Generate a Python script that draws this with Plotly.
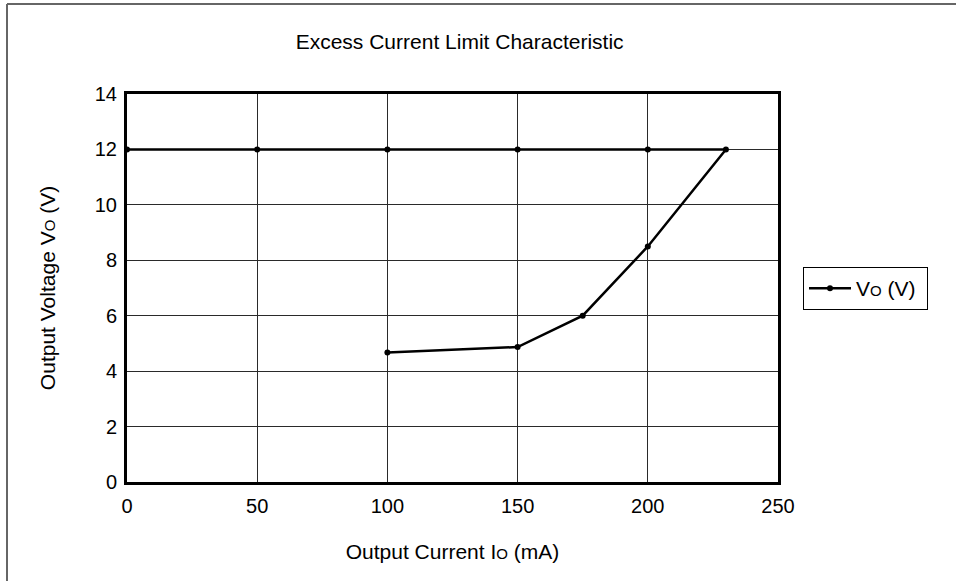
import plotly.graph_objects as go

# Data
current_ma = [0, 50, 100, 150, 200, 230, 200, 175, 150, 100]
voltage_v = [12, 12, 12, 12, 12, 12, 8.5, 6.0, 4.87, 4.67]
x_ticks = [0, 50, 100, 150, 200, 250]
y_ticks = [0, 2, 4, 6, 8, 10, 12, 14]

FONT = "Liberation Sans, Arial, sans-serif"
W, H = 956, 581
ML, MR, MT, MB = 127, 178, 94, 99
PW, PH = W - ML - MR, H - MT - MB

def px_x(p):
    return (p - ML) / PW

def px_y(p):
    return (H - MB - p) / PH

small_o = "<span style='font-size:15px'>O</span>"

fig = go.Figure()
fig.add_trace(go.Scatter(
    x=current_ma, y=voltage_v, mode="lines+markers",
    name="V" + small_o + " (V) ",
    line=dict(color="black", width=2.5),
    marker=dict(color="black", size=6),
    cliponaxis=False,
))

fig.update_layout(
    width=W, height=H,
    margin=dict(l=ML, r=MR, t=MT, b=MB, autoexpand=False),
    paper_bgcolor="white", plot_bgcolor="white",
    font=dict(family=FONT, size=20, color="black"),
    title=dict(text="Excess Current Limit Characteristic", x=px_x(440), xanchor="center",
               y=1 - 42 / H, yanchor="middle", font=dict(size=21, family=FONT, color="black")),
    showlegend=True,
    legend=dict(x=px_x(803), y=px_y(267), xanchor="left", yanchor="top",
                bordercolor="black", borderwidth=1, bgcolor="white",
                font=dict(size=21, family=FONT), itemwidth=42,
                tracegroupgap=0),
    xaxis=dict(range=[0, 250], tickvals=x_ticks, showgrid=True, gridcolor="#2a2a2a", gridwidth=1,
               showline=True, linecolor="black", linewidth=3, mirror=True, zeroline=False,
               ticks="", ticklen=0, ticklabelstandoff=4,
               title=dict(text="Output Current I" + small_o + " (mA)", standoff=29,
                          font=dict(size=21, family=FONT))),
    yaxis=dict(range=[0, 14], tickvals=y_ticks, showgrid=True, gridcolor="#2a2a2a", gridwidth=1,
               showline=True, linecolor="black", linewidth=3, mirror=True, zeroline=False,
               ticks="", ticklen=0, ticklabelstandoff=3,
               title=dict(text="Output Voltage V" + small_o + " (V)", standoff=34,
                          font=dict(size=21, family=FONT))),
    shapes=[
        dict(type="line", xref="paper", yref="paper", x0=px_x(7), x1=px_x(7),
             y0=px_y(H + 5), y1=px_y(4), line=dict(color="#666666", width=2)),
        dict(type="line", xref="paper", yref="paper", x0=px_x(7), x1=px_x(W + 5),
             y0=px_y(4), y1=px_y(4), line=dict(color="#666666", width=2)),
    ],
)

fig.write_html("out.html", config={"displayModeBar": False},
               post_script="document.body.style.margin='0px';")
